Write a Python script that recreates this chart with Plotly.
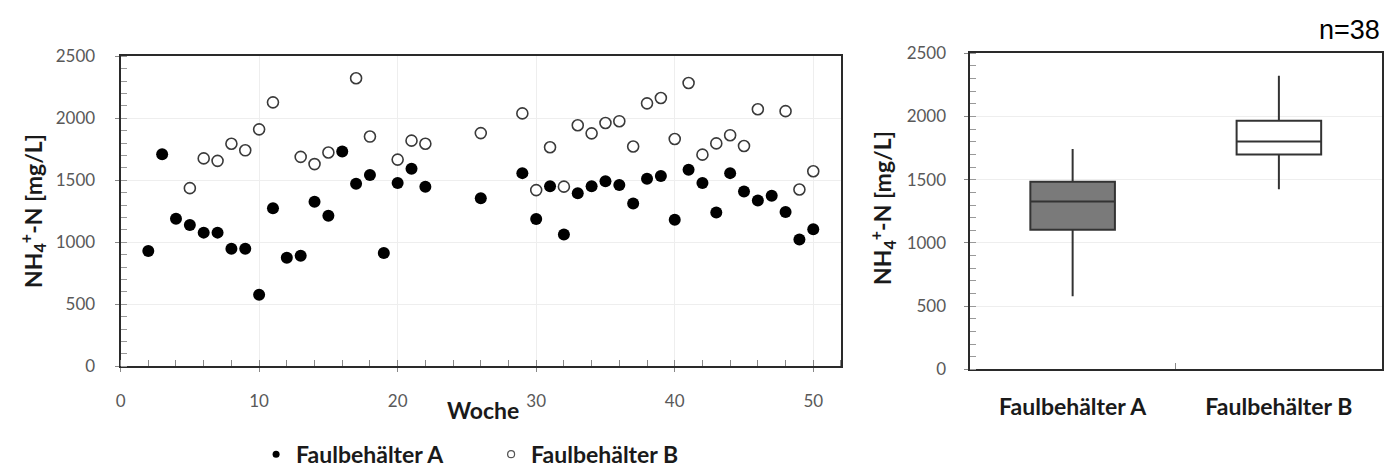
import plotly.graph_objects as go

# ---------------- data ----------------
weeks_a = [2, 3, 4, 5, 6, 7, 8, 9, 10, 11, 12, 13, 14, 15, 16, 17, 18, 19, 20, 21, 22,
           26, 29, 30, 31, 32, 33, 34, 35, 36, 37, 38, 39, 40, 41, 42, 43, 44, 45, 46, 47, 48, 49, 50]
values_a = [930, 1710, 1190, 1140, 1078, 1078, 947, 947, 576, 1275, 876, 891, 1328, 1214, 1732,
            1472, 1543, 914, 1479, 1593, 1449,
            1356, 1558, 1187, 1452, 1063, 1396, 1452, 1492, 1462, 1313, 1512, 1535, 1182, 1586,
            1479, 1240, 1558, 1409, 1338, 1376, 1245, 1023, 1106]

weeks_b = [5, 6, 7, 8, 9, 10, 11, 13, 14, 15, 17, 18, 20, 21, 22,
           26, 29, 30, 31, 32, 33, 34, 35, 36, 37, 38, 39, 40, 41, 42, 43, 44, 45, 46, 48, 49, 50]
values_b = [1437, 1677, 1657, 1795, 1742, 1911, 2129, 1689, 1631, 1724, 2323, 1853, 1667, 1820, 1795,
            1881, 2040, 1421, 1767, 1449, 1944, 1879, 1962, 1977, 1773, 2121, 2164, 1833, 2285,
            1707, 1798, 1864, 1777, 2073, 2058, 1426, 1573]

box_names = ["Faulbehälter A", "Faulbehälter B"]
box_lower = [578, 1424]
box_q1 = [1105, 1699]
box_median = [1328, 1803]
box_q3 = [1484, 1966]
box_upper = [1743, 2322]
box_fill = ["#7a7a7a", "#ffffff"]

y_ticks = [0, 500, 1000, 1500, 2000, 2500]
x_ticks = [0, 10, 20, 30, 40, 50]

# ---------------- figure ----------------
W, H = 1386, 476
FONT = "Lato"
TICKFONT = dict(family=FONT, size=17, color="#595959")
BOLD = dict(family=FONT, size=23, color="#1a1a1a", weight="bold")

fig = go.Figure()

fig.add_trace(go.Scatter(
    x=weeks_a, y=values_a, mode="markers", name="Faulbehälter A", showlegend=False,
    marker=dict(size=12, color="#000000", line=dict(width=0)),
    xaxis="x", yaxis="y"))
fig.add_trace(go.Scatter(
    x=weeks_b, y=values_b, mode="markers", name="Faulbehälter B", showlegend=False,
    marker=dict(size=11, color="#ffffff", line=dict(width=1.6, color="#3a3a3a")),
    xaxis="x", yaxis="y"))

# legend entries (small bullets like the reference)
fig.add_trace(go.Scatter(
    x=[None], y=[None], mode="markers", name="Faulbehälter A",
    marker=dict(size=7, color="#000000"), xaxis="x", yaxis="y"))
fig.add_trace(go.Scatter(
    x=[None], y=[None], mode="markers", name="Faulbehälter B",
    marker=dict(size=7, color="#ffffff", line=dict(width=1.2, color="#555555")),
    xaxis="x", yaxis="y"))

for i, nm in enumerate(box_names):
    fig.add_trace(go.Box(
        x=[nm], q1=[box_q1[i]], median=[box_median[i]], q3=[box_q3[i]],
        lowerfence=[box_lower[i]], upperfence=[box_upper[i]],
        fillcolor=box_fill[i], line=dict(color="#333333", width=2),
        width=0.41, whiskerwidth=0, boxpoints=False, showlegend=False, name=nm,
        xaxis="x2", yaxis="y2"))

px = lambda v: v / W
py = lambda v: (H - v) / H

axis_common = dict(showline=True, linecolor="#2a2a2a", linewidth=2, mirror=True,
                   zeroline=False, tickfont=TICKFONT)

fig.update_layout(
    width=W, height=H,
    margin=dict(l=0, r=0, t=0, b=0),
    paper_bgcolor="white", plot_bgcolor="white",
    boxmode="overlay",
    showlegend=True,
    legend=dict(orientation="h", x=px(252), xanchor="left", y=py(472), yanchor="middle",
                font=BOLD, entrywidth=190, entrywidthmode="pixels",
                bgcolor="rgba(0,0,0,0)", itemclick=False),
    xaxis=dict(domain=[px(116), px(839)], range=[0, 52], anchor="y",
               tickmode="array", tickvals=x_ticks,
               showgrid=True, gridcolor="#eeeeee", gridwidth=1,
               ticks="outside", ticklen=4, tickcolor="#888888",
               ticklabelstandoff=14,
               minor=dict(dtick=2, ticks="inside", ticklen=6, tickcolor="#888888", showgrid=False),
               **axis_common),
    yaxis=dict(domain=[py(378.3), py(48.3)], range=[0, 2500], anchor="x",
               tickmode="array", tickvals=y_ticks,
               showgrid=True, gridcolor="#eeeeee", gridwidth=1,
               ticks="outside", ticklen=4, tickcolor="#888888",
               ticklabelstandoff=16,
               minor=dict(dtick=100, ticks="inside", ticklen=6, tickcolor="#999999", showgrid=False),
               **axis_common),
    xaxis2=dict(domain=[px(968), px(1382)], anchor="y2", type="category",
                categoryorder="array", categoryarray=box_names, range=[-0.5, 1.5],
                tickson="boundaries", ticks="inside", ticklen=6, tickcolor="#888888",
                showgrid=False, ticklabelstandoff=16,
                **{**axis_common, "tickfont": BOLD}),
    yaxis2=dict(domain=[py(381.7), py(45)], range=[0, 2500], anchor="x2",
                tickmode="array", tickvals=y_ticks,
                showgrid=True, gridcolor="#eeeeee", gridwidth=1,
                ticks="outside", ticklen=4, tickcolor="#888888",
                ticklabelstandoff=14,
                minor=dict(dtick=100, ticks="inside", ticklen=6, tickcolor="#999999", showgrid=False),
                **axis_common),
    annotations=[
        dict(text="Woche", x=px(480), y=py(425), xref="paper", yref="paper",
             xanchor="center", yanchor="middle", showarrow=False, font=BOLD),
        dict(text="NH<sub>4</sub><sup>+</sup>-N [mg/L]", x=px(27), y=py(213),
             xref="paper", yref="paper", xanchor="center", yanchor="middle",
             textangle=-90, showarrow=False, font=BOLD),
        dict(text="NH<sub>4</sub><sup>+</sup>-N [mg/L]", x=px(880), y=py(210),
             xref="paper", yref="paper", xanchor="center", yanchor="middle",
             textangle=-90, showarrow=False, font=BOLD),
        dict(text="n=38", x=px(1382), y=py(20), xref="paper", yref="paper",
             xanchor="right", yanchor="middle", showarrow=False,
             font=dict(family="Liberation Sans", size=27, color="#000000")),
    ],
)

fig.write_html("out.html")
